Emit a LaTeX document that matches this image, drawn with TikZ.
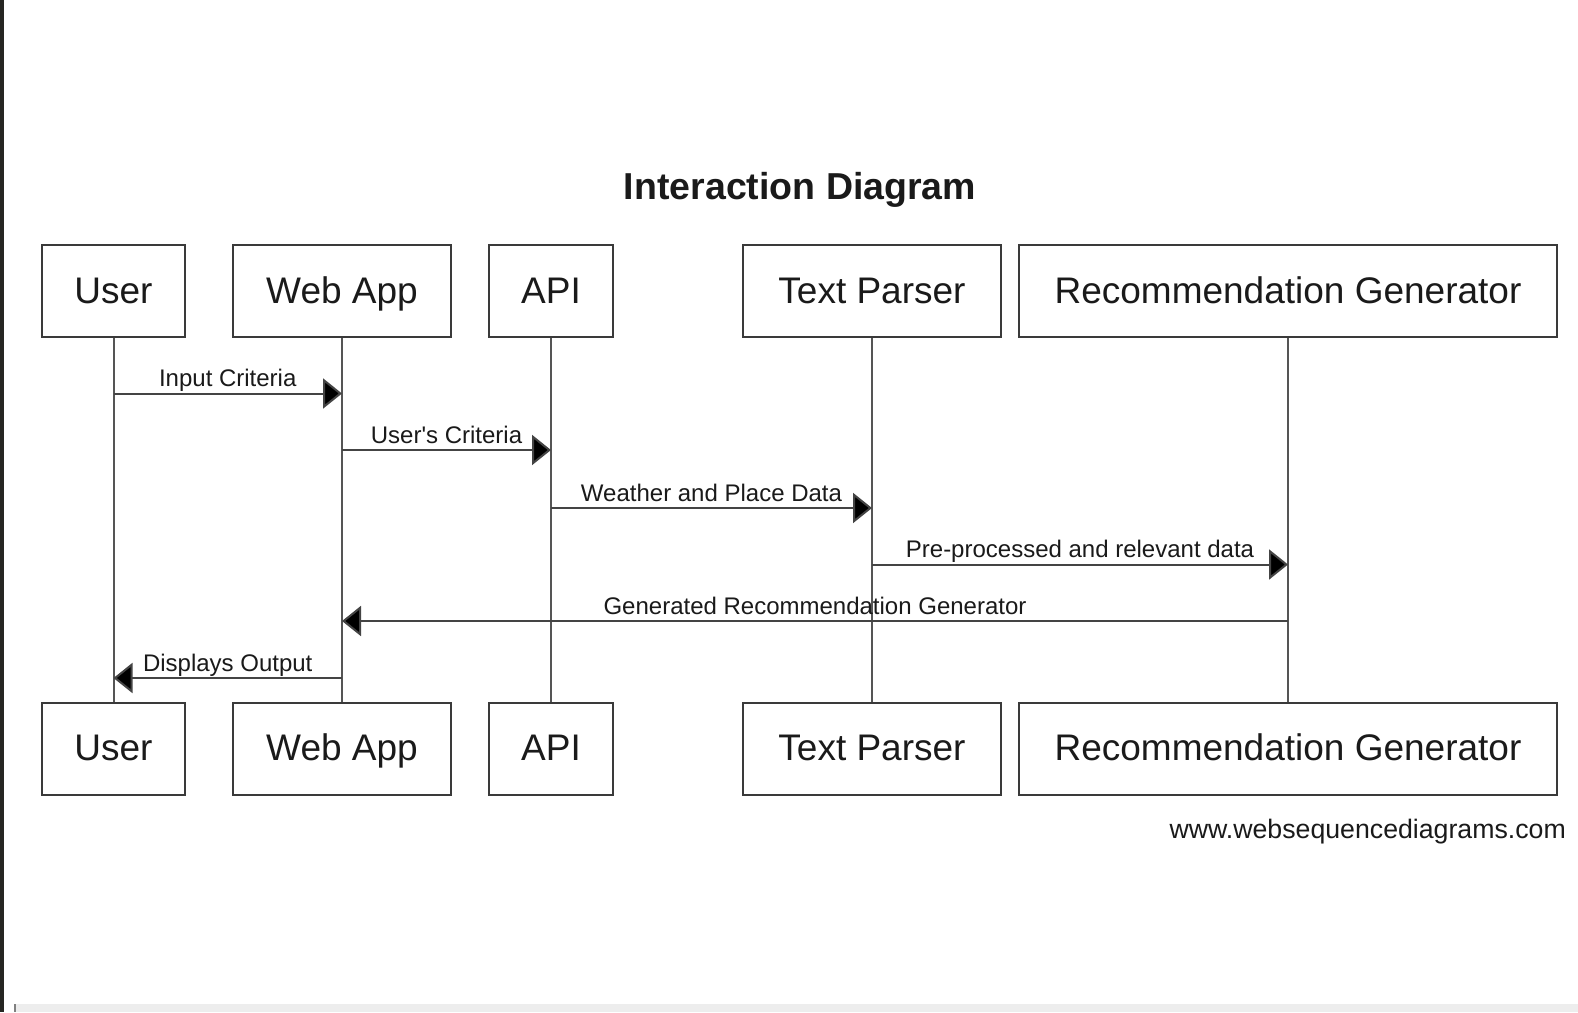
\documentclass[tikz,border=0pt]{standalone}
\usepackage{fontspec}
\setmainfont{Liberation Sans}
\usetikzlibrary{arrows.meta}
\definecolor{boxc}{HTML}{3A3A3A}
\definecolor{linec}{HTML}{555555}
\definecolor{arrc}{HTML}{444444}
\definecolor{txt}{HTML}{1A1A1A}
\definecolor{barc}{HTML}{262622}
\definecolor{botc}{HTML}{EDEDED}
\begin{document}
\begin{tikzpicture}[x=1pt,y=-1pt,
  actor/.style={draw=boxc, line width=2pt, minimum width=#1, minimum height=92pt, inner sep=0pt, text height=30pt, text depth=6pt, font=\fontsize{37}{40}\selectfont, text=txt},
  life/.style={draw=linec, line width=2pt},
  msg/.style={draw=arrc, line width=2pt, -{Triangle[length=19pt,width=30pt,fill=black]}},
  lbl/.style={font=\fontsize{24}{26}\selectfont, text=txt, anchor=base, inner sep=0pt, yshift=7pt}]
\useasboundingbox (0,0) rectangle (1578,1012);
\fill[white] (0,0) rectangle (1578,1012);
\fill[barc] (0,0) rectangle (4.3,1012);
\fill[botc] (14,1003.5) rectangle (1578,1012);
\fill[gray] (14,1003.5) rectangle (16,1012);

\node[font=\bfseries\fontsize{37.5}{40}\selectfont, text=txt] (title) at (800,190) {Interaction Diagram};

% top actors
\node[actor=143pt] (userT) at (113.5,291) {User};
\node[actor=218pt] (webT) at (342,291) {Web App};
\node[actor=124pt] (apiT) at (551,291) {API};
\node[actor=258pt] (tpT) at (872,291) {Text Parser};
\node[actor=538pt] (rgT) at (1288,291) {Recommendation Generator};
% bottom actors
\node[actor=143pt] (userB) at (113.5,748.5) {User};
\node[actor=218pt] (webB) at (342,748.5) {Web App};
\node[actor=124pt] (apiB) at (551,748.5) {API};
\node[actor=258pt] (tpB) at (872,748.5) {Text Parser};
\node[actor=538pt] (rgB) at (1288,748.5) {Recommendation Generator};

% lifelines
\draw[life] (userT.south) -- (userB.north);
\draw[life] (webT.south) -- (webB.north);
\draw[life] (apiT.south) -- (apiB.north);
\draw[life] (tpT.south) -- (tpB.north);
\draw[life] (rgT.south) -- (rgB.north);

% message coordinates
\coordinate (m1a) at (userT.south |- 0,393.5);
\coordinate (m1b) at (webT.south |- 0,393.5);
\coordinate (m2a) at (webT.south |- 0,450);
\coordinate (m2b) at (apiT.south |- 0,450);
\coordinate (m3a) at (apiT.south |- 0,508);
\coordinate (m3b) at (tpT.south |- 0,508);
\coordinate (m4a) at (tpT.south |- 0,564.5);
\coordinate (m4b) at (rgT.south |- 0,564.5);
\coordinate (m5a) at (rgT.south |- 0,621);
\coordinate (m5b) at (webT.south |- 0,621);
\coordinate (m6a) at (webT.south |- 0,678);
\coordinate (m6b) at (userT.south |- 0,678);

\draw[msg] (m1a) -- node[lbl] {Input Criteria} (m1b);
\draw[msg] (m2a) -- node[lbl] {User\textquotesingle s Criteria} (m2b);
\draw[msg] (m3a) -- node[lbl] {Weather and Place Data} (m3b);
\draw[msg] (m4a) -- node[lbl] {Pre-processed and relevant data} (m4b);
\draw[msg] (m5a) -- node[lbl] {Generated Recommendation Generator} (m5b);
\draw[msg] (m6a) -- node[lbl] {Displays Output} (m6b);

\node[anchor=east, inner sep=0pt, font=\fontsize{26.7}{28}\selectfont, text=txt] (wm) at (1566,832) {www.websequencediagrams.com};
\end{tikzpicture}
\end{document}
